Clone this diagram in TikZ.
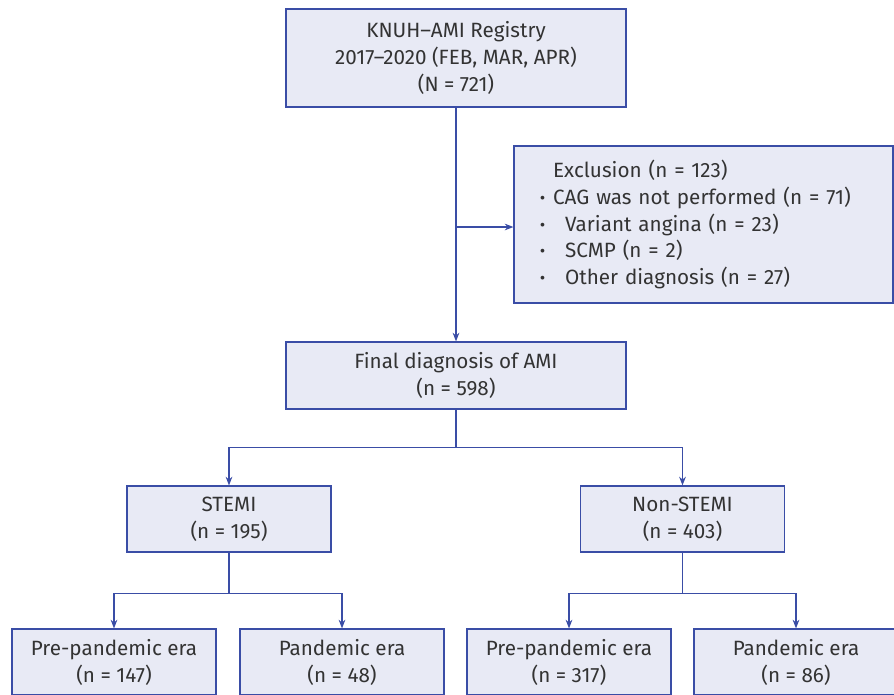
\documentclass[tikz,border=0pt]{standalone}
\usepackage{fontspec}
\setmainfont{Fira Sans}
\usetikzlibrary{arrows.meta}
\definecolor{boxfill}{HTML}{E8EAF5}
\definecolor{boxline}{HTML}{3A4DA6}
\definecolor{txt}{HTML}{333333}
\newcommand{\bul}[1][9.75pt]{\makebox[#1][l]{\textbf{·}}}
\begin{document}
\begin{tikzpicture}[x=.75pt, y=-.75pt, >={Stealth[length=6.5pt,width=5pt]},
  every node/.style={font=\fontsize{15.5}{20.2}\selectfont, text=txt},
  box/.style={draw=boxline, fill=boxfill, line width=.9pt, align=center, inner sep=0pt},
  arr/.style={->, draw=boxline, line width=.8pt}]
\useasboundingbox (0,0) rectangle (894,694);
% boxes
\node[box, minimum width=255pt, minimum height=73.5pt](reg) at (456,58){KNUH--AMI Registry\\2017--2020 (FEB, MAR, APR)\\(N = 721)};
\node[box, minimum width=284.25pt, minimum height=117.75pt, text width=245pt, align=left](excl) at (703.5,224.5){\hspace*{9.75pt}Exclusion (n = 123)\\\bul CAG was not performed (n = 71)\\\bul[13.5pt] Variant angina (n = 23)\\\bul[13.5pt] SCMP (n = 2)\\\bul[13.5pt] Other diagnosis (n = 27)};
\node[box, minimum width=255pt, minimum height=50.25pt](ami) at (456,375.5){Final diagnosis of AMI\\(n = 598)};
\node[box, minimum width=153pt, minimum height=49.5pt](stemi) at (229,519){STEMI\\(n = 195)};
\node[box, minimum width=153pt, minimum height=49.5pt](nstemi) at (682.5,519){Non-STEMI\\(n = 403)};
\node[box, minimum width=153pt, minimum height=49.5pt](spre) at (114,662){Pre-pandemic era\\(n = 147)};
\node[box, minimum width=153pt, minimum height=49.5pt](span) at (342,662){Pandemic era\\(n = 48)};
\node[box, minimum width=153pt, minimum height=49.5pt](npre) at (569,662){Pre-pandemic era\\(n = 317)};
\node[box, minimum width=153pt, minimum height=49.5pt](npan) at (796,662){Pandemic era\\(n = 86)};
% arrows
\coordinate (j) at (456,227);
\draw[arr](reg)--(ami);
\draw[arr](j)--(j-|excl.west);
\draw[arr](ami.south)--++(0,38)-|(stemi.north);
\draw[arr](ami.south)--++(0,38)-|(nstemi.north);
\draw[arr](stemi.south)--++(0,41)-|(spre.north);
\draw[arr](stemi.south)--++(0,41)-|(span.north);
\draw[arr](nstemi.south)--++(0,41)-|(npre.north);
\draw[arr](nstemi.south)--++(0,41)-|(npan.north);
\end{tikzpicture}
\end{document}
